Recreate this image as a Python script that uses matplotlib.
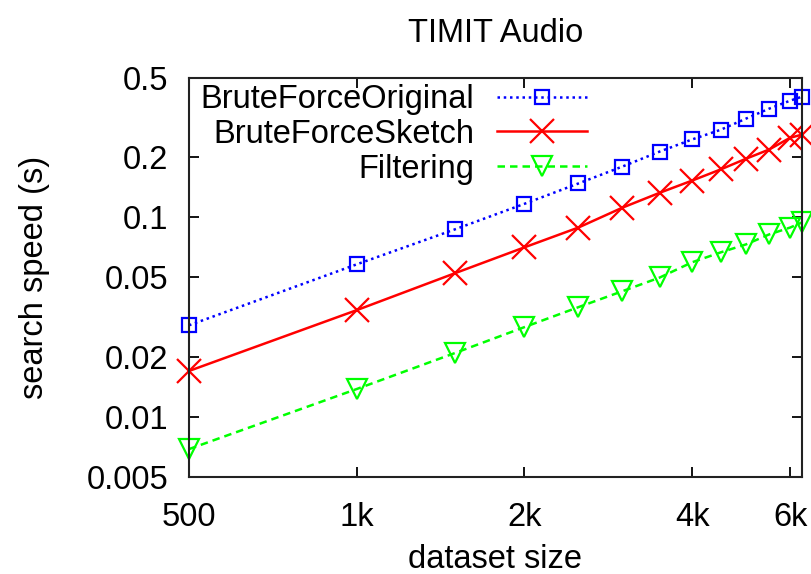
import matplotlib
matplotlib.use("Agg")
import matplotlib.pyplot as plt
from matplotlib.ticker import FixedLocator, NullLocator

# ---- data ----
sizes = [500, 1000, 1500, 2000, 2500, 3000, 3500, 4000, 4500, 5000, 5500, 6000, 6300]
brute_original = [0.0288, 0.0582, 0.0871, 0.117, 0.148, 0.180, 0.214, 0.246, 0.275, 0.313, 0.351, 0.385, 0.403]
brute_sketch = [0.0170, 0.0343, 0.0525, 0.0708, 0.089, 0.112, 0.133, 0.153, 0.174, 0.197, 0.219, 0.251, 0.260]
filtering = [0.0069, 0.0138, 0.0209, 0.0282, 0.0355, 0.0427, 0.0500, 0.0596, 0.0668, 0.0733, 0.0822, 0.0890, 0.0944]

x_ticks = [500, 1000, 2000, 4000, 6000]
x_ticklabels = ["500", "1k", "2k", "4k", "6k"]
y_ticks = [0.005, 0.01, 0.02, 0.05, 0.1, 0.2, 0.5]
y_ticklabels = ["0.005", "0.01", "0.02", "0.05", "0.1", "0.2", "0.5"]

plt.rcParams['font.family'] = ['Liberation Sans', 'DejaVu Sans']
FS = 23.5

fig = plt.figure(figsize=(8.12, 5.74), dpi=100)
ax = fig.add_axes([189/812, 1-477/574, (802-189)/812, (477-78)/574])

ax.plot(sizes, brute_original, color='#0000ff', linestyle=(0, (1, 1.5)), linewidth=1.8,
        marker='s', markersize=10, markerfacecolor='none', markeredgecolor='#0000ff',
        markeredgewidth=1.6, label='BruteForceOriginal', clip_on=False)
ax.plot(sizes, brute_sketch, color='#ff0000', linestyle='-', linewidth=1.8,
        marker='x', markersize=17, markeredgewidth=1.6, label='BruteForceSketch', clip_on=False)
ax.plot(sizes, filtering, color='#00ff00', linestyle=(0, (3, 2)), linewidth=1.8,
        marker='v', markersize=14, markerfacecolor='none', markeredgecolor='#00ff00',
        markeredgewidth=1.6, label='Filtering', clip_on=False)

ax.set_xscale('log')
ax.set_yscale('log')
ax.set_xlim(500, 6300)
ax.set_ylim(0.005, 0.5)
ax.xaxis.set_major_locator(FixedLocator(x_ticks))
ax.xaxis.set_minor_locator(NullLocator())
ax.set_xticklabels(x_ticklabels)
ax.yaxis.set_major_locator(FixedLocator(y_ticks))
ax.yaxis.set_minor_locator(NullLocator())
ax.set_yticklabels(y_ticklabels)

ax.tick_params(axis='both', which='major', direction='in', length=7, width=1.3,
               top=True, right=True, labelsize=FS, colors='black')
ax.tick_params(axis='x', pad=18)
ax.tick_params(axis='y', pad=15)
for s in ax.spines.values():
    s.set_linewidth(1.5)
    s.set_color('#222222')

ax.set_title('TIMIT Audio', fontsize=FS, pad=26)
ax.set_xlabel('dataset size', fontsize=FS, labelpad=8)
ax.set_ylabel('search speed (s)', fontsize=FS, labelpad=26)

leg = ax.legend(loc='upper right', bbox_to_anchor=(587/812, 1-84/574),
                bbox_transform=fig.transFigure, frameon=False, markerfirst=False,
                fontsize=FS, handlelength=2.75, handletextpad=0.7, labelspacing=0.12,
                borderpad=0, borderaxespad=0)

fig.savefig('out.png', dpi=100)
